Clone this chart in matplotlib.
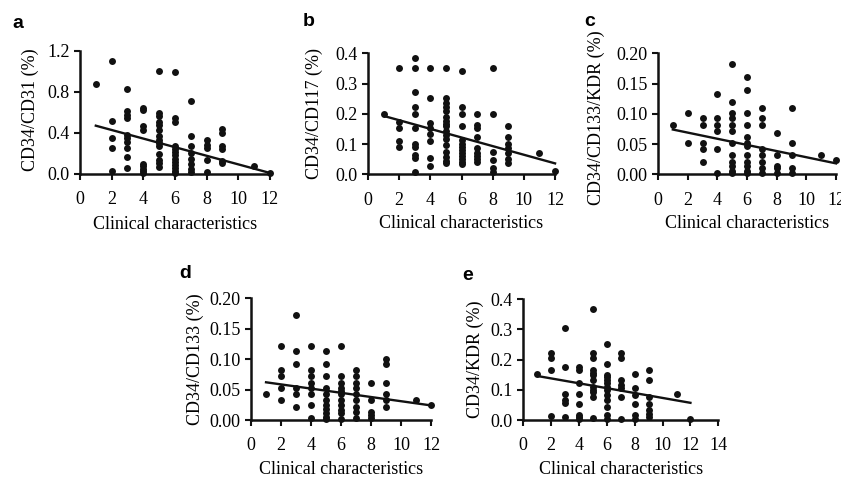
import numpy as np
import matplotlib
matplotlib.use('Agg')
from matplotlib import pyplot as plt

plt.rcParams['font.family'] = 'Liberation Serif'
plt.rcParams['font.size'] = 13

# Panel a: CD34/CD31 vs clinical characteristics
xa = [1] + [2]*5 + [3]*10 + [4]*9 + [5]*14 + [6]*13 + [7]*8 + [8]*5 + [9]*6 + [11, 12]
ya = [0.88,
      1.10, 0.52, 0.35, 0.25, 0.03,
      0.83, 0.61, 0.57, 0.54, 0.38, 0.35, 0.31, 0.25, 0.17, 0.06,
      0.64, 0.62, 0.47, 0.43, 0.10, 0.08, 0.05, 0.03, 0.01,
      1.00, 0.59, 0.56, 0.51, 0.48, 0.43, 0.37, 0.33, 0.30, 0.27, 0.19, 0.14, 0.11, 0.07,
      0.99, 0.54, 0.51, 0.27, 0.24, 0.21, 0.18, 0.15, 0.12, 0.09, 0.06, 0.03, 0.01,
      0.71, 0.37, 0.27, 0.20, 0.15, 0.10, 0.05, 0.02,
      0.33, 0.28, 0.25, 0.14, 0.02,
      0.44, 0.40, 0.27, 0.24, 0.13, 0.11,
      0.08, 0.01]
fit_a = [0.470, 0.010]   # fitted value at x=1 and x=12

# Panel b: CD34/CD117
xb = [1] + [2]*5 + [3]*11 + [4]*8 + [5]*17 + [6]*13 + [7]*9 + [8]*6 + [9]*7 + [11, 12]
yb = [0.20,
      0.35, 0.174, 0.152, 0.111, 0.091,
      0.386, 0.35, 0.271, 0.224, 0.20, 0.154, 0.10, 0.091, 0.064, 0.053, 0.007,
      0.35, 0.251, 0.171, 0.152, 0.133, 0.111, 0.053, 0.029,
      0.35, 0.251, 0.235, 0.224, 0.209, 0.19, 0.177, 0.166, 0.158, 0.144, 0.13, 0.116,
      0.097, 0.075, 0.058, 0.045, 0.036,
      0.342, 0.224, 0.20, 0.161, 0.113, 0.10, 0.09, 0.08, 0.07, 0.06, 0.05, 0.04, 0.035,
      0.20, 0.163, 0.152, 0.122, 0.086, 0.07, 0.06, 0.05, 0.04,
      0.35, 0.20, 0.073, 0.047, 0.02, 0.007,
      0.161, 0.122, 0.10, 0.086, 0.069, 0.05, 0.036,
      0.072, 0.011]
fit_b = [0.193, 0.036]

# Panel c: CD34/CD133/KDR
xc = [1] + [2]*2 + [3]*5 + [4]*6 + [5]*12 + [6]*12 + [7]*8 + [8]*5 + [9]*5 + [11, 12]
yc = [0.082,
      0.101, 0.051,
      0.093, 0.082, 0.051, 0.042, 0.020,
      0.132, 0.093, 0.082, 0.071, 0.042, 0.002,
      0.182, 0.120, 0.101, 0.093, 0.082, 0.071, 0.051, 0.032, 0.020, 0.013, 0.006, 0.002,
      0.160, 0.140, 0.101, 0.082, 0.061, 0.051, 0.046, 0.032, 0.020, 0.013, 0.006, 0.002,
      0.110, 0.093, 0.082, 0.042, 0.032, 0.020, 0.010, 0.002,
      0.068, 0.032, 0.014, 0.010, 0.002,
      0.110, 0.051, 0.032, 0.011, 0.002,
      0.032, 0.023]
fit_c = [0.074, 0.018]

# Panel d: CD34/CD133
xd = [1] + [2]*5 + [3]*6 + [4]*8 + [5]*11 + [6]*11 + [7]*9 + [8]*5 + [9]*6 + [11, 12]
yd = [0.042,
      0.122, 0.082, 0.073, 0.052, 0.033,
      0.172, 0.113, 0.092, 0.052, 0.042, 0.022,
      0.122, 0.082, 0.073, 0.061, 0.052, 0.042, 0.024, 0.003,
      0.113, 0.092, 0.073, 0.052, 0.042, 0.033, 0.024, 0.018, 0.011, 0.005, 0.002,
      0.122, 0.073, 0.061, 0.052, 0.047, 0.042, 0.033, 0.024, 0.016, 0.011, 0.002,
      0.082, 0.073, 0.061, 0.052, 0.042, 0.033, 0.022, 0.013, 0.003,
      0.061, 0.033, 0.013, 0.008, 0.003,
      0.101, 0.092, 0.061, 0.042, 0.033, 0.022,
      0.033, 0.024]
fit_d = [0.062, 0.024]

# Panel e: CD34/KDR
xe = [1] + [2]*4 + [3]*6 + [4]*8 + [5]*12 + [6]*13 + [7]*7 + [8]*6 + [9]*7 + [11, 12]
ye = [0.151,
      0.223, 0.204, 0.166, 0.014,
      0.304, 0.175, 0.085, 0.066, 0.055, 0.009,
      0.177, 0.166, 0.124, 0.085, 0.052, 0.017, 0.009, 0.003,
      0.367, 0.223, 0.204, 0.166, 0.155, 0.149, 0.133, 0.110, 0.100, 0.092, 0.075, 0.006,
      0.251, 0.185, 0.149, 0.141, 0.133, 0.122, 0.110, 0.100, 0.083, 0.066, 0.044, 0.017, 0.003,
      0.223, 0.204, 0.133, 0.116, 0.105, 0.075, 0.003,
      0.151, 0.105, 0.083, 0.052, 0.017, 0.003,
      0.166, 0.133, 0.077, 0.052, 0.033, 0.020, 0.009,
      0.085, 0.003]
fit_e = [0.146, 0.057]
fit_x = [1, 12]

panels = [
    # letter, x, y, fit, ylabel, ymax, yticks, ytick format, xmax, axes rect, letter pos, ylabel xy
    ('a', xa, ya, fit_a, 'CD34/CD31 (%)', 1.2, [0, 0.4, 0.8, 1.2], '%.1f', 12,
     [0.0951, 0.636, 0.2259, 0.258], (12, 23), (-0.216, 0.52)),
    ('b', xb, yb, fit_b, 'CD34/CD117 (%)', 0.4, [0, 0.1, 0.2, 0.3, 0.4], '%.1f', 12,
     [0.4376, 0.6354, 0.2224, 0.2531], (303, 22), (-0.241, 0.5)),
    ('c', xc, yc, fit_c, 'CD34/CD133/KDR (%)', 0.2, [0, 0.05, 0.10, 0.15, 0.20], '%.2f', 12,
     [0.7824, 0.6354, 0.2117, 0.2531], (584, 21), (-0.30, 0.47)),
    ('d', xd, yd, fit_d, 'CD34/CD133 (%)', 0.2, [0, 0.05, 0.10, 0.15, 0.20], '%.2f', 12,
     [0.2985, 0.1213, 0.2140, 0.2546], (179, 273), (-0.259, 0.5)),
    ('e', xe, ye, fit_e, 'CD34/KDR (%)', 0.4, [0, 0.1, 0.2, 0.3, 0.4], '%.1f', 14,
     [0.6222, 0.1213, 0.2319, 0.2525], (462, 276), (-0.20, 0.5)),
]

W, H = 841, 478
fig = plt.figure(figsize=(W / 100, H / 100), dpi=100)

for (letter, x, y, fit, ylab, ymax, yt, fmt, xmax, rect, lpos, ylxy) in panels:
    ax = fig.add_axes(rect)
    ax.plot(x, y, 'o', color='#111111', ms=5.0, mew=0, clip_on=False, zorder=3)
    ax.plot(fit_x, fit, '-', color='#111111', lw=1.7, clip_on=False, zorder=2)
    ax.set_xlim(0, xmax)
    ax.set_ylim(0, ymax)
    ax.set_xticks(np.arange(0, xmax + 1, 2))
    ax.set_yticks(yt)
    ax.set_yticklabels([fmt % v for v in yt])
    for s in ['top', 'right']:
        ax.spines[s].set_visible(False)
    for s in ['left', 'bottom']:
        ax.spines[s].set_linewidth(1.8)
        ax.spines[s].set_color('#111111')
    ax.tick_params(direction='out', length=4.5, width=1.5, color='#111111',
                   labelsize=13, pad=3)
    ax.tick_params(axis='x', pad=8)
    ax.set_ylabel(ylab, fontsize=13)
    ax.yaxis.set_label_coords(*ylxy)
    ax.set_xlabel('Clinical characteristics', fontsize=13)
    ax.xaxis.set_label_coords(0.5, -0.34)
    fig.text(lpos[0] / W, 1 - lpos[1] / H, letter, family='Liberation Sans',
             weight='bold', fontsize=14, ha='left', va='center')

fig.savefig('out.png', dpi=100)
